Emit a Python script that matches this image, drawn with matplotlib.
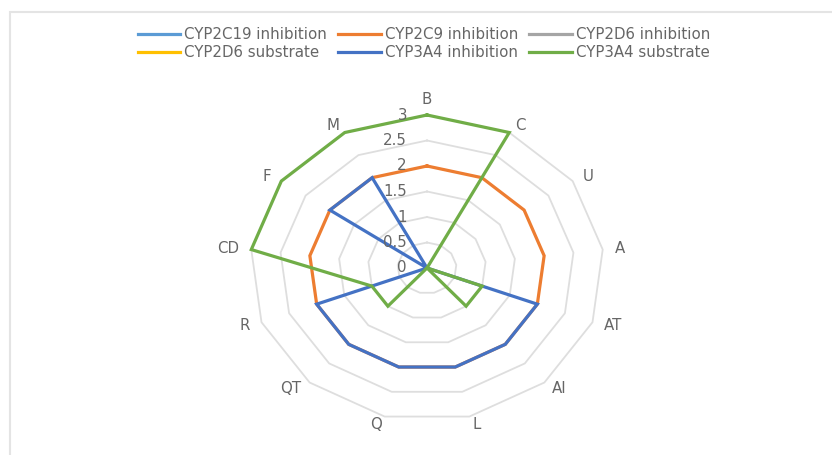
import numpy as np
import matplotlib
matplotlib.use("Agg")
import matplotlib.pyplot as plt
from matplotlib.patches import Rectangle

categories = ['B', 'C', 'U', 'A', 'AT', 'AI', 'L', 'Q', 'QT', 'R', 'CD', 'F', 'M']
series_names = ['CYP2C19 inhibition', 'CYP2C9 inhibition', 'CYP2D6 inhibition',
                'CYP2D6 substrate', 'CYP3A4 inhibition', 'CYP3A4 substrate']
cyp2c19_inh = [0, 0, 0, 0, 0, 0, 0, 0, 0, 0, 0, 0, 0]
cyp2c9_inh = [2, 2, 2, 2, 2, 2, 2, 2, 2, 2, 2, 2, 2]
cyp2d6_inh = [0, 0, 0, 0, 0, 0, 0, 0, 0, 0, 0, 0, 0]
cyp2d6_sub = [0, 0, 0, 0, 0, 0, 0, 0, 0, 0, 0, 0, 0]
cyp3a4_inh = [0, 0, 0, 0, 2, 2, 2, 2, 2, 2, 0, 2, 2]
cyp3a4_sub = [3, 3, 0, 0, 1, 1, 0, 0, 1, 1, 3, 3, 3]
radial_ticks = [0, 0.5, 1, 1.5, 2, 2.5, 3]
radial_labels = ['0', '0.5', '1', '1.5', '2', '2.5', '3']

colors = ['#5B9BD5', '#ED7D31', '#A5A5A5', '#FFC000', '#4472C4', '#70AD47']
text_color = '#666666'
fs = 10.8

plt.rcParams['font.family'] = ['DejaVu Sans']

W, H = 832, 455
fig = plt.figure(figsize=(W / 100, H / 100), dpi=100)
fig.patch.set_facecolor('white')

# frame
fig.add_artist(Rectangle((10 / W, -0.1), 1.2, 1.1 - 12 / H, transform=fig.transFigure,
                         fill=False, edgecolor='#E4E4E4', linewidth=1.5))

cx, cy = 427, 268
rx, ry = 177, 153
ax = fig.add_axes([(cx - rx) / W, (H - cy - ry) / H, 2 * rx / W, 2 * ry / H],
                  projection='polar')
ax.set_aspect('auto')
ax.set_theta_zero_location('N')
ax.set_theta_direction(-1)
ax.set_ylim(0, 3)
ax.set_xticks([])
ax.set_yticks([])
ax.grid(False)
ax.spines['polar'].set_visible(False)
ax.patch.set_alpha(0)

n = len(categories)
theta = np.arange(n) * 2 * np.pi / n
theta_c = np.append(theta, theta[0])

# polygon grid
for lvl in radial_ticks[1:]:
    ax.plot(theta_c, [lvl] * (n + 1), color='#DEDEDE', lw=1.3, zorder=1, clip_on=False)

data = [cyp2c19_inh, cyp2c9_inh, cyp2d6_inh, cyp2d6_sub, cyp3a4_inh, cyp3a4_sub]
handles = []
for i, (vals, name) in enumerate(zip(data, series_names)):
    v = np.append(vals, vals[0])
    h, = ax.plot(theta_c, v, color=colors[i], lw=2.3, label=name, zorder=3 + i,
                 clip_on=False, solid_joinstyle='miter')
    handles.append(h)

# radial tick labels
for t, lab in zip(radial_ticks, radial_labels):
    ax.annotate(lab, xy=(0, t), xytext=(-20, 0), textcoords='offset pixels',
                ha='right', va='center', fontsize=fs, color=text_color, zorder=20)

# category labels
for th, lab in zip(theta, categories):
    s, c = np.sin(th), np.cos(th)
    ha = 'left' if s > 0.05 else ('right' if s < -0.05 else 'center')
    va = 'bottom' if c > 0.99 else 'center'
    ax.annotate(lab, xy=(th, 3), xytext=(12 * s, 8 * c), textcoords='offset pixels',
                ha=ha, va=va, fontsize=fs, color=text_color, annotation_clip=False)

order = [0, 3, 1, 4, 2, 5]
fig.legend([handles[i] for i in order], [series_names[i] for i in order],
           ncol=3, loc='upper center', bbox_to_anchor=(424 / W, 1 - 27 / H),
           frameon=False, fontsize=fs, labelcolor=text_color,
           handlelength=2.85, handletextpad=0.25, columnspacing=0.75,
           labelspacing=0.2, borderpad=0, borderaxespad=0)

fig.savefig('out.png', dpi=100)
